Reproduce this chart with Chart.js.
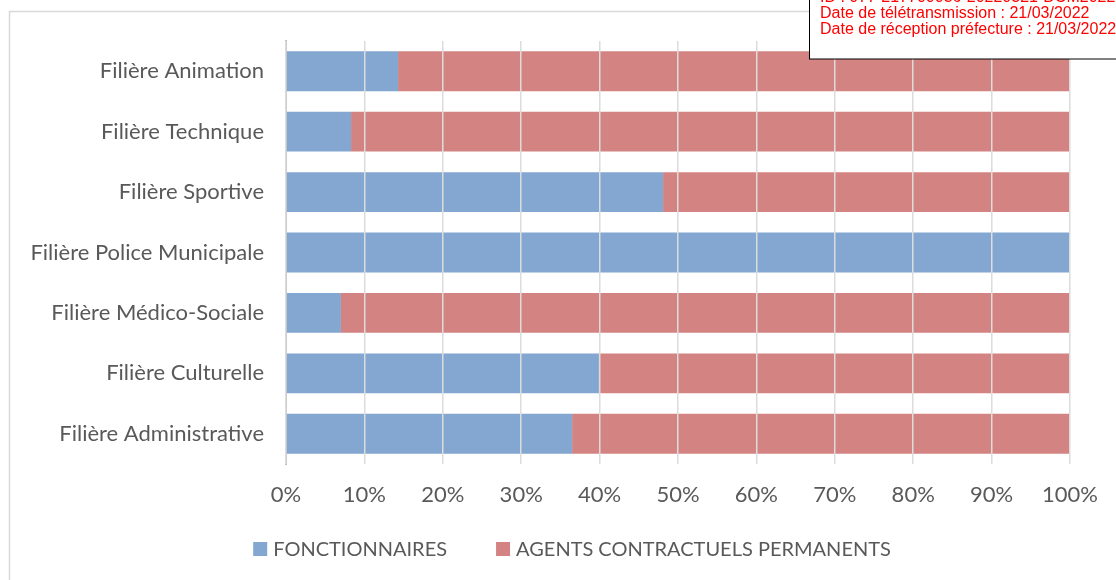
<!DOCTYPE html>
<html>
<head>
<meta charset="utf-8">
<script src="https://cdn.jsdelivr.net/npm/chart.js@4/dist/chart.umd.min.js"></script>
<style>
html,body{margin:0;padding:0;background:#fff;}
#wrap{width:1116px;height:580px;position:relative;}
</style>
</head>
<body>
<div id="wrap"><canvas id="c" width="1116" height="580"></canvas></div>
<script>
const categories = ["Filière Animation","Filière Technique","Filière Sportive","Filière Police Municipale","Filière Médico-Sociale","Filière Culturelle","Filière Administrative"];
const fonctionnaires = [14.3, 8.3, 48.1, 100, 7.0, 39.9, 36.5];
const contractuels = [85.7, 91.7, 51.9, 0, 93.0, 60.1, 63.5];
const seriesNames = ["FONCTIONNAIRES","AGENTS CONTRACTUELS PERMANENTS"];
const stampLines = ["ID : 077-217700036-20220321-DCM2022003-DE","Date de télétransmission : 21/03/2022","Date de réception préfecture : 21/03/2022"];

const FONT = "Lato";
const TXT = "#595959";
const colors = ["rgba(79,129,189,0.7)","rgba(192,80,77,0.7)"];

const decor = {
  id:'decor',
  beforeDraw(chart){
    const ctx = chart.ctx;
    ctx.save();
    ctx.fillStyle = '#fff';
    ctx.fillRect(0,0,chart.width,chart.height);
    ctx.strokeStyle = '#d9d9d9';
    ctx.lineWidth = 1.5;
    ctx.strokeRect(9.5, 11.5, 1300, 800);
    ctx.restore();
  },
  afterDraw(chart){
    const ctx = chart.ctx;
    ctx.save();
    // legend
    ctx.font = "20px " + FONT;
    ctx.textBaseline = 'middle';
    const box = 14, gap = 6, itemGap = 49;
    const widths = seriesNames.map(s => ctx.measureText(s).width);
    const total = widths.reduce((a,w)=>a+box+gap+w,0) + itemGap*(seriesNames.length-1);
    let x = 572 - total/2;
    const y = 549;
    seriesNames.forEach((s,i)=>{
      ctx.fillStyle = colors[i];
      ctx.fillRect(x, y-7, box, box);
      ctx.fillStyle = TXT;
      ctx.fillText(s, x+box+gap, y+1);
      x += box+gap+widths[i]+itemGap;
    });
    // stamp
    ctx.fillStyle = '#fff';
    ctx.fillRect(809, -5, 400, 64);
    ctx.strokeStyle = '#000';
    ctx.lineWidth = 1;
    ctx.strokeRect(809.5, -5, 400, 64);
    ctx.fillStyle = '#ff0000';
    ctx.font = "16px 'Liberation Sans'";
    ctx.textBaseline = 'alphabetic';
    ctx.fillText(stampLines[0], 820, 2);
    ctx.fillText(stampLines[1], 820, 18);
    ctx.fillText(stampLines[2], 820, 34);
    ctx.restore();
  }
};

new Chart(document.getElementById('c'), {
  type:'bar',
  data:{
    labels: categories,
    datasets:[
      {label: seriesNames[0], data: fonctionnaires, backgroundColor: colors[0], borderWidth:0, barPercentage:0.66, categoryPercentage:1},
      {label: seriesNames[1], data: contractuels, backgroundColor: colors[1], borderWidth:0, barPercentage:0.66, categoryPercentage:1}
    ]
  },
  options:{
    indexAxis:'y',
    responsive:false,
    animation:false,
    layout:{padding:{left:10,right:46,top:41,bottom:50}},
    plugins:{legend:{display:false},tooltip:{enabled:false}},
    scales:{
      x:{
        stacked:true, min:0, max:100,
        ticks:{stepSize:10, callback:v=>v+'%', color:TXT, font:{family:FONT,size:22}, padding:18, maxRotation:0},
        grid:{color:'#dcdcdc', lineWidth:1.5, drawTicks:false, z:1},
        border:{display:false},
        afterFit(s){ s.height = 66; }
      },
      y:{
        stacked:true,
        ticks:{color:TXT, font:{family:FONT,size:22}, padding:22},
        grid:{display:false, drawTicks:false},
        border:{display:true, color:'#bfbfbf', width:2},
        afterFit(s){ s.width = 276; }
      }
    }
  },
  plugins:[decor]
});
</script>
</body>
</html>
